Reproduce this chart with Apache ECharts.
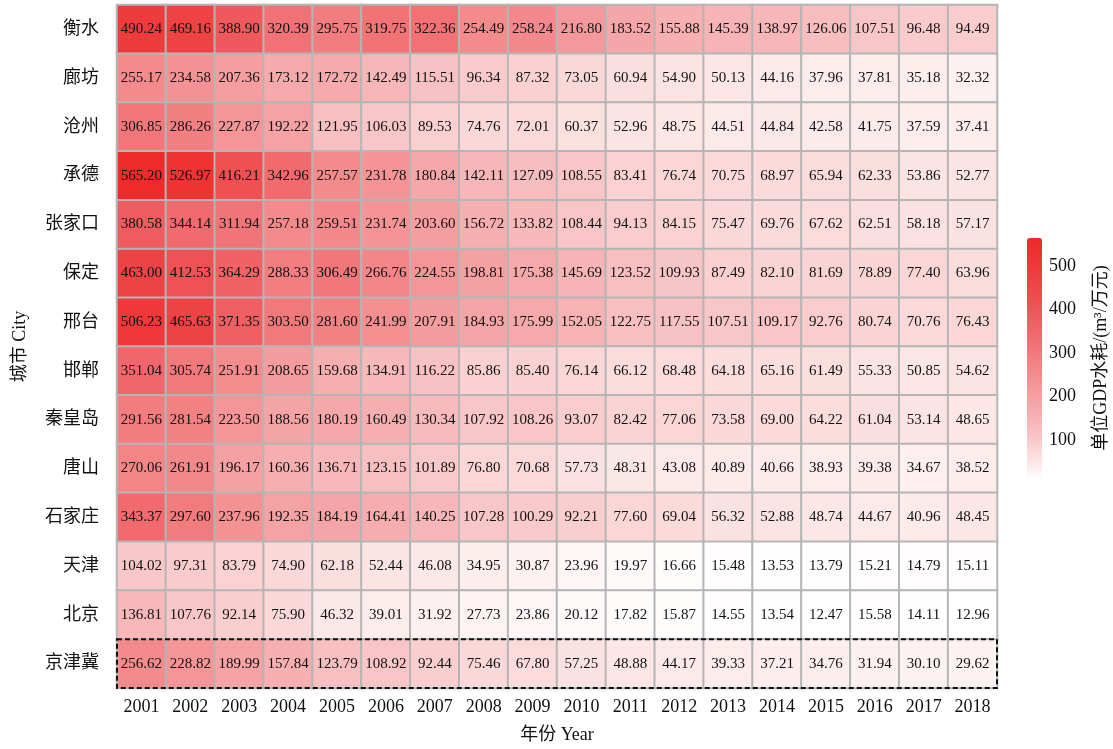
<!DOCTYPE html>
<html>
<head>
<meta charset="utf-8">
<script src="https://cdn.jsdelivr.net/npm/echarts@6/dist/echarts.min.js"></script>
<style>
  html, body { margin: 0; padding: 0; background: #fff; }
  #chart { width: 1113px; height: 749px; }
</style>
</head>
<body>
<div id="chart"></div>
<script>
// Water use per unit GDP (m³ / 10k CNY), 2001–2018
const years = ['2001','2002','2003','2004','2005','2006','2007','2008','2009','2010','2011','2012','2013','2014','2015','2016','2017','2018'];
const cities = ['衡水','廊坊','沧州','承德','张家口','保定','邢台','邯郸','秦皇岛','唐山','石家庄','天津','北京','京津冀'];

const hengshui     = [490.24,469.16,388.90,320.39,295.75,319.75,322.36,254.49,258.24,216.80,183.52,155.88,145.39,138.97,126.06,107.51,96.48,94.49];
const langfang     = [255.17,234.58,207.36,173.12,172.72,142.49,115.51,96.34,87.32,73.05,60.94,54.90,50.13,44.16,37.96,37.81,35.18,32.32];
const cangzhou     = [306.85,286.26,227.87,192.22,121.95,106.03,89.53,74.76,72.01,60.37,52.96,48.75,44.51,44.84,42.58,41.75,37.59,37.41];
const chengde      = [565.20,526.97,416.21,342.96,257.57,231.78,180.84,142.11,127.09,108.55,83.41,76.74,70.75,68.97,65.94,62.33,53.86,52.77];
const zhangjiakou  = [380.58,344.14,311.94,257.18,259.51,231.74,203.60,156.72,133.82,108.44,94.13,84.15,75.47,69.76,67.62,62.51,58.18,57.17];
const baoding      = [463.00,412.53,364.29,288.33,306.49,266.76,224.55,198.81,175.38,145.69,123.52,109.93,87.49,82.10,81.69,78.89,77.40,63.96];
const xingtai      = [506.23,465.63,371.35,303.50,281.60,241.99,207.91,184.93,175.99,152.05,122.75,117.55,107.51,109.17,92.76,80.74,70.76,76.43];
const handan       = [351.04,305.74,251.91,208.65,159.68,134.91,116.22,85.86,85.40,76.14,66.12,68.48,64.18,65.16,61.49,55.33,50.85,54.62];
const qinhuangdao  = [291.56,281.54,223.50,188.56,180.19,160.49,130.34,107.92,108.26,93.07,82.42,77.06,73.58,69.00,64.22,61.04,53.14,48.65];
const tangshan     = [270.06,261.91,196.17,160.36,136.71,123.15,101.89,76.80,70.68,57.73,48.31,43.08,40.89,40.66,38.93,39.38,34.67,38.52];
const shijiazhuang = [343.37,297.60,237.96,192.35,184.19,164.41,140.25,107.28,100.29,92.21,77.60,69.04,56.32,52.88,48.74,44.67,40.96,48.45];
const tianjin      = [104.02,97.31,83.79,74.90,62.18,52.44,46.08,34.95,30.87,23.96,19.97,16.66,15.48,13.53,13.79,15.21,14.79,15.11];
const beijing      = [136.81,107.76,92.14,75.90,46.32,39.01,31.92,27.73,23.86,20.12,17.82,15.87,14.55,13.54,12.47,15.58,14.11,12.96];
const jingjinji    = [256.62,228.82,189.99,157.84,123.79,108.92,92.44,75.46,67.80,57.25,48.88,44.17,39.33,37.21,34.76,31.94,30.10,29.62];

const rows = [hengshui, langfang, cangzhou, chengde, zhangjiakou, baoding, xingtai,
              handan, qinhuangdao, tangshan, shijiazhuang, tianjin, beijing, jingjinji];

const colorbarTicks = [100, 200, 300, 400, 500];
const scaleMin = 12.47, scaleMax = 565.20;

// Colour ramp: white → red, brightening slowly at the high end
const rampStops = [
  [12.47, '#ffffff'],
  [35,    '#fdeeee'],
  [95,    '#f9cccd'],
  [146,   '#f7b4b6'],
  [199,   '#f5a0a2'],
  [257,   '#f38a8c'],
  [343,   '#f06a6e'],
  [416,   '#ef5053'],
  [490,   '#ee3c3d'],
  [565.2, '#ee2a2a']
];

function hexToRgb(h) {
  return [parseInt(h.slice(1, 3), 16), parseInt(h.slice(3, 5), 16), parseInt(h.slice(5, 7), 16)];
}
function rampAt(v) {
  for (let i = 1; i < rampStops.length; i++) {
    if (v <= rampStops[i][0]) {
      const [v0, c0] = rampStops[i - 1], [v1, c1] = rampStops[i];
      const t = (v - v0) / (v1 - v0);
      const a = hexToRgb(c0), b = hexToRgb(c1);
      return 'rgb(' + a.map((x, k) => Math.round(x + (b[k] - x) * t)).join(',') + ')';
    }
  }
  return rampStops[rampStops.length - 1][1];
}
const rampColors = [];
const STEPS = 60;
for (let i = 0; i <= STEPS; i++) rampColors.push(rampAt(scaleMin + (scaleMax - scaleMin) * i / STEPS));

const cells = [];
rows.forEach((row, r) => row.forEach((v, c) => cells.push([c, r, v])));

const FONT = '"Liberation Serif", "Times New Roman", "Noto Sans CJK SC", serif';

const chart = echarts.init(document.getElementById('chart'), null, { renderer: 'canvas' });

chart.setOption({
  animation: false,
  backgroundColor: '#fff',
  textStyle: { fontFamily: FONT },
  grid: [
    { left: 117, right: 116, top: 5, bottom: 59 },
    { left: 1027, width: 15, top: 238, height: 240 }
  ],
  xAxis: [
    {
      type: 'category', data: years, gridIndex: 0,
      axisLine: { show: false }, axisTick: { show: false }, splitLine: { show: false },
      axisLabel: { fontFamily: FONT, fontSize: 18, color: '#111', margin: 10 },
      name: '年份 Year', nameLocation: 'middle', nameGap: 38,
      nameTextStyle: { fontFamily: FONT, fontSize: 18, color: '#111' }
    },
    { type: 'value', gridIndex: 1, show: false, min: 0, max: 1 }
  ],
  yAxis: [
    {
      type: 'category', data: cities, gridIndex: 0, inverse: true,
      axisLine: { show: false }, axisTick: { show: false }, splitLine: { show: false },
      axisLabel: { fontFamily: FONT, fontSize: 18, color: '#111', margin: 18 },
      name: '城市 City', nameLocation: 'middle', nameGap: 88, nameRotate: 90,
      nameTextStyle: { fontFamily: FONT, fontSize: 18, color: '#111' }
    },
    {
      type: 'value', gridIndex: 1, position: 'right', min: scaleMin, max: scaleMax,
      axisLine: { show: false }, axisTick: { show: false }, splitLine: { show: false },
      axisLabel: { fontFamily: FONT, fontSize: 18, color: '#111', margin: 7, customValues: colorbarTicks },
      name: '单位GDP水耗/(m³/万元)', nameLocation: 'middle', nameGap: 50, nameRotate: 90,
      nameTextStyle: { fontFamily: FONT, fontSize: 18, color: '#111' }
    }
  ],
  visualMap: {
    type: 'continuous',
    min: scaleMin, max: scaleMax,
    seriesIndex: 0,
    calculable: false,
    left: 1027, top: 238,
    itemWidth: 15, itemHeight: 240,
    padding: 0,
    text: ['', ''],
    showLabel: false,
    inRange: { color: rampColors }
  },
  series: [
    {
      type: 'heatmap',
      xAxisIndex: 0, yAxisIndex: 0,
      data: cells,
      itemStyle: { borderColor: '#b5b5b5', borderWidth: 2 },
      label: {
        show: true,
        fontFamily: FONT, fontSize: 15, color: '#111',
        formatter: p => p.value[2].toFixed(2)
      },
      emphasis: { disabled: true }
    },
    {
      type: 'scatter', xAxisIndex: 1, yAxisIndex: 1, data: [], silent: true
    }
  ]
});

// Dashed outline around the regional aggregate row
const lastRow = cities[cities.length - 1];
const a = chart.convertToPixel({ gridIndex: 0 }, [years[0], lastRow]);
const b = chart.convertToPixel({ gridIndex: 0 }, [years[1], cities[cities.length - 2]]);
const cw = b[0] - a[0];
const ch = a[1] - b[1];
chart.setOption({
  graphic: [{
    type: 'rect',
    shape: { x: a[0] - cw / 2, y: a[1] - ch / 2, width: cw * years.length, height: ch },
    style: { fill: 'none', stroke: '#111', lineWidth: 2, lineDash: [5, 3] },
    z: 100
  }]
});
</script>
</body>
</html>
